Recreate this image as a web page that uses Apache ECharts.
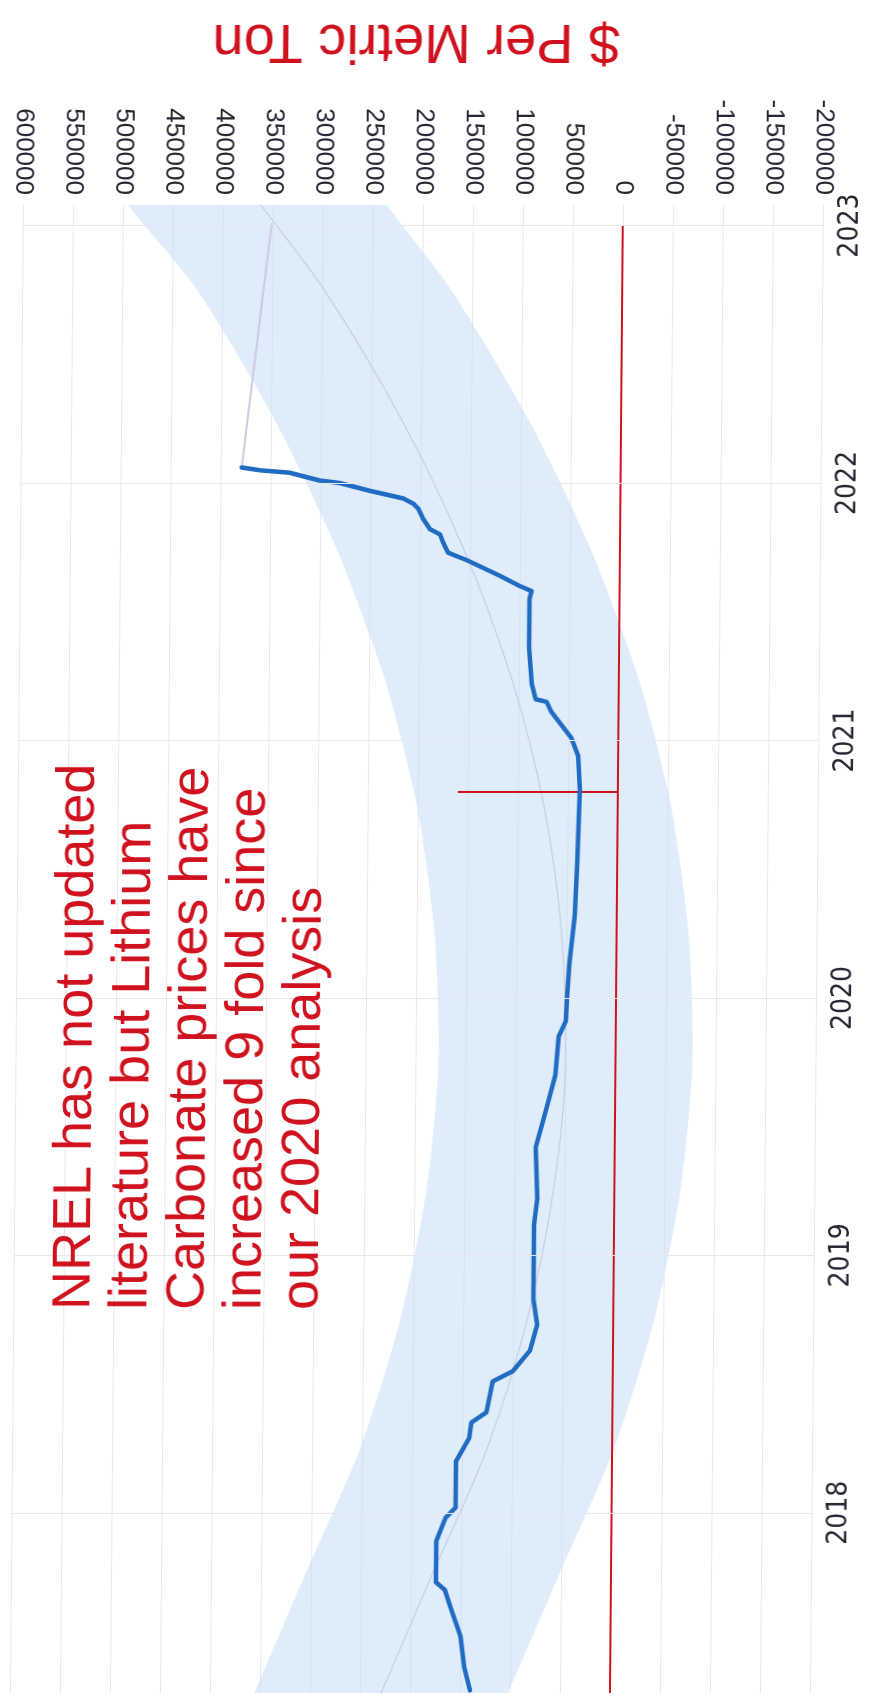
<!DOCTYPE html>
<html><head><meta charset="utf-8">
<script src="https://cdn.jsdelivr.net/npm/echarts@6/dist/echarts.min.js"></script>
<style>
html,body{margin:0;padding:0;background:#fff;overflow:hidden}
#c{width:870px;height:1701px;transform:skewX(-0.5deg);transform-origin:50% 200px}
</style>
</head><body><div id="c"></div>
<script>
// ---- data ----
const yearTicks = [2018, 2019, 2020, 2021, 2022, 2023];

const priceYears = [2017.31, 2017.40, 2017.52, 2017.63, 2017.70, 2017.73, 2017.89, 2017.98, 2018.02, 2018.20,
  2018.29, 2018.35, 2018.39, 2018.51, 2018.55, 2018.63, 2018.73, 2018.83, 2019.12, 2019.22,
  2019.42, 2019.55, 2019.70, 2019.85, 2019.91, 2020.00, 2020.13, 2020.32, 2020.52, 2020.81,
  2020.94, 2021.01, 2021.11, 2021.15, 2021.16, 2021.22, 2021.36, 2021.55, 2021.58, 2021.60,
  2021.64, 2021.70, 2021.73, 2021.77, 2021.80, 2021.82, 2021.86, 2021.90, 2021.92, 2021.94,
  2021.97, 2022.00, 2022.01, 2022.04, 2022.05, 2022.06];
const priceValues = [140000, 146000, 150000, 160000, 166000, 175000, 175000, 166000, 156000, 156000,
  143000, 141000, 126000, 120000, 100000, 83000, 76000, 80000, 80000, 77000,
  79000, 70000, 60000, 57000, 50000, 49000, 47000, 42000, 40000, 38000,
  40000, 47000, 67000, 72000, 83000, 87000, 90000, 90000, 88000, 100000,
  120000, 153000, 172000, 177000, 180000, 190000, 197000, 202000, 207000, 217000,
  251000, 281000, 301000, 331000, 361000, 379000];

const jumpYears = [2022.06, 2023.01];
const jumpValues = [379000, 351000];

const bandYears = [2016.9, 2017.3, 2017.75, 2018.25, 2018.75, 2019.25, 2019.75, 2020.25, 2020.75, 2021.25, 2021.75, 2022.25, 2022.75, 2023.08, 2023.5];
const bandUpper = [405000, 356000, 307000, 252000, 213000, 188000, 177000, 182000, 201000, 235000, 284000, 347000, 425000, 495000, 575000];
const bandLower = [148000, 102000, 53000, -2000, -41000, -66000, -77000, -72000, -53000, -19000, 30000, 93000, 171000, 236000, 310000];
const trendValues = [276000, 229000, 180000, 125000, 86000, 61000, 50000, 55000, 74000, 108000, 157000, 220000, 298000, 362000, 440000];

const zeroLineYears = [2023.0, 2017.3];
const zeroLineValues = [0, 0];
const markerYears = [2020.80, 2020.80];
const markerValues = [160000, 0];

const noteLines = ['NREL has not updated', 'literature but Lithium', 'Carbonate prices have', 'increased 9 fold since', 'our 2020 analysis'];
const axisTitle = '$ Per Metric Ton';

// ---- chart ----
const pair = (vals, yrs) => yrs.map((y, i) => [vals[i], y]);
const FONT = "'Liberation Sans', Arial, sans-serif";
const NARROW = "'Liberation Sans Narrow', 'DejaVu Sans Condensed', 'Liberation Sans', Arial, sans-serif";
const RED = '#d0121e';

const chart = echarts.init(document.getElementById('c'), null, { renderer: 'canvas' });
chart.setOption({
  animation: false,
  backgroundColor: '#ffffff',
  grid: { left: 23, right: 47, top: 205, bottom: 8, containLabel: false },
  xAxis: {
    type: 'value', position: 'top', inverse: true,
    min: -200000, max: 600000, interval: 50000,
    axisLine: { show: false }, axisTick: { show: false },
    axisLabel: { rotate: 90, margin: 10, fontSize: 26, color: '#262633', fontFamily: FONT,
      formatter: v => String(v) },
    splitLine: { show: true, lineStyle: { color: '#e8e8ef', width: 1 } }
  },
  yAxis: {
    type: 'value', position: 'right',
    min: 2017.3, max: 2023.08,
    axisLine: { show: false }, axisTick: { show: false },
    splitLine: { show: false },
    axisLabel: { customValues: yearTicks, rotate: 90, margin: 14, fontSize: 28, color: '#262633', fontFamily: NARROW,
      formatter: v => String(Math.round(v)) }
  },
  series: [
    {
      type: 'custom', name: 'band', clip: true, z: 1,
      data: [[bandLower[1], bandYears[1]]],
      renderItem: (params, api) => {
        const pts = [];
        for (let i = 0; i < bandYears.length; i++) pts.push(api.coord([bandUpper[i], bandYears[i]]));
        for (let i = bandYears.length - 1; i >= 0; i--) pts.push(api.coord([bandLower[i], bandYears[i]]));
        return { type: 'polygon', shape: { points: pts, smooth: 0.25 },
          style: { fill: 'rgba(196,220,246,0.55)', stroke: 'none' } };
      }
    },
    {
      type: 'line', name: 'trend', data: pair(trendValues, bandYears), smooth: 0.3,
      showSymbol: false, silent: true, z: 2, clip: true,
      lineStyle: { color: '#c5cddf', width: 1.2 },
      markLine: { silent: true, symbol: 'none', label: { show: false },
        lineStyle: { color: '#e6e6ee', width: 1.2, type: 'solid' },
        data: yearTicks.map(y => ({ yAxis: y })) }
    },
    {
      type: 'line', name: 'zero', data: pair(zeroLineValues, zeroLineYears),
      showSymbol: false, silent: true, z: 3,
      lineStyle: { color: RED, width: 2 }
    },
    {
      type: 'line', name: 'marker', data: pair(markerValues, markerYears),
      showSymbol: false, silent: true, z: 3,
      lineStyle: { color: RED, width: 2 }
    },
    {
      type: 'line', name: 'jump', data: pair(jumpValues, jumpYears),
      showSymbol: false, silent: true, z: 3,
      lineStyle: { color: '#c9cbe3', width: 2 }
    },
    {
      type: 'line', name: 'price', data: pair(priceValues, priceYears),
      showSymbol: false, silent: true, z: 4,
      lineStyle: { color: '#1f6cc2', width: 4.5, join: 'round', cap: 'round' }
    }
  ],
  graphic: [
    {
      type: 'text', x: 56, y: 1310, rotation: Math.PI / 2, z: 10,
      style: { text: noteLines.join('\n'), fontSize: 54, lineHeight: 57, fontFamily: FONT,
        fill: RED, align: 'left', verticalAlign: 'top', textAlign: 'left', textVerticalAlign: 'top' }
    },
    {
      type: 'text', x: 415, y: 40, rotation: Math.PI, z: 10,
      style: { text: axisTitle, fontSize: 56, fontFamily: FONT, fill: RED,
        align: 'center', verticalAlign: 'middle', textAlign: 'center', textVerticalAlign: 'middle' }
    }
  ]
});
</script>
</body></html>
